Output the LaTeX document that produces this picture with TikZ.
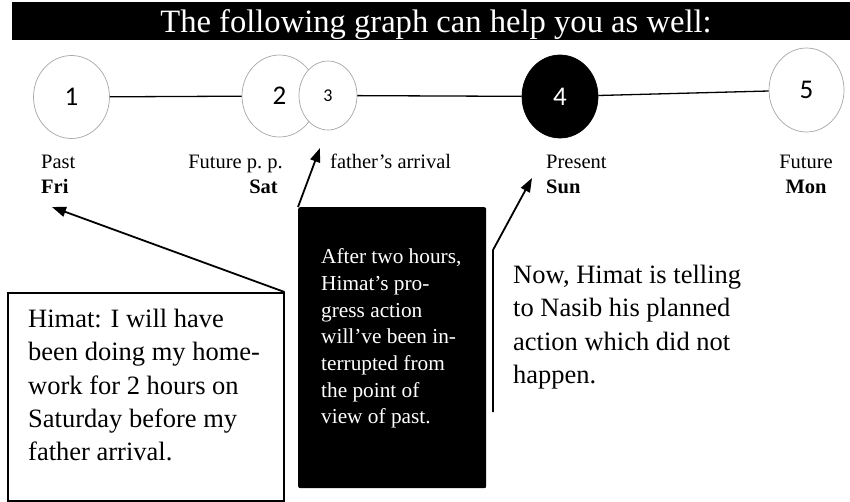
\documentclass[tikz,border=0pt]{standalone}
\usepackage{fontspec}
\setmainfont{Liberation Serif}
\newfontfamily\numfont{Carlito}
\usetikzlibrary{shapes.geometric,arrows.meta}
\begin{document}
\begin{tikzpicture}[x=1pt,y=-1pt,
  circ/.style={ellipse, draw=gray!70, line width=0.7pt, fill=white, inner sep=0pt, font=\numfont\fontsize{27}{30}\selectfont},
  link/.style={line width=1.3pt, draw=black},
  lab/.style={anchor=base west, inner sep=0pt, font=\fontsize{20.5}{24}\selectfont},
  blab/.style={lab, font=\fontsize{20.5}{24}\selectfont\bfseries},
  pointer/.style={line width=1.8pt, -{Triangle[length=14pt,width=10pt]}},
  bigtext/.style={anchor=north west, inner sep=0pt, align=left, font=\fontsize{26.5}{33.3}\selectfont},
]
\useasboundingbox (0,0) rectangle (850,501);
% title bar
\node[fill=black, minimum width=838pt, minimum height=38pt, inner sep=0pt, anchor=north west] (bar) at (12,2) {};
\node[anchor=base, inner sep=0pt, text=white, font=\fontsize{32.6}{36}\selectfont] (title) at (436,32) {The following graph can help you as well:};
% circles
\node[circ, minimum width=76pt, minimum height=83pt] (n1) at (71.5,97) {1};
\node[circ, minimum width=75pt, minimum height=82pt] (n2) at (279.5,96) {2};
\node[circ, minimum width=58pt, minimum height=69pt, font=\numfont\fontsize{18}{20}\selectfont] (n3) at (328,95.5) {3};
\node[circ, draw=black, fill=black, text=white, minimum width=76pt, minimum height=83pt] (n4) at (560,96.5) {4};
\node[circ, minimum width=75pt, minimum height=84pt] (n5) at (806.5,90) {5};
\draw[link] (n1) -- (n2);
\draw[link] (n3) -- (n4);
\draw[link] (n4) -- (n5);
% labels
\node[lab] (past) at (41,168) {Past};
\node[blab] (fri) at (41,193) {Fri};
\node[lab, anchor=base east] (fpp) at (283,168) {Future p.\ p.};
\node[blab, anchor=base east] (sat) at (278,193) {Sat};
\node[lab] (arr) at (330,168) {father’s arrival};
\node[lab] (pres) at (546,168) {Present};
\node[blab] (sun) at (546,193) {Sun};
\node[lab, anchor=base] (fut) at (806,168) {Future};
\node[blab, anchor=base] (mon) at (806,193) {Mon};
% box 1
\node[draw, line width=1.5pt, minimum width=276pt, minimum height=208pt, inner sep=0pt, anchor=north west] (box1) at (7,292) {};
\node[bigtext] (t1) at (28,309) {Himat: I will have\\been doing my home-\\work for 2 hours on\\Saturday before my\\father arrival.};
% black box
\node[fill=black, rounded corners=2pt, minimum width=188pt, minimum height=281pt, inner sep=0pt, anchor=north west] (bbox) at (298,207) {};
\node[anchor=north west, inner sep=0pt, align=left, text=white, font=\fontsize{21.3}{26.7}\selectfont] (t2) at (321,248.5) {After two hours,\\Himat’s pro-\\gress action\\will’ve been in-\\terrupted from\\the point of\\view of past.};
% right text
\node[bigtext] (t3) at (513,265) {Now, Himat is telling\\to Nasib his planned\\action which did not\\happen.};
% arrows
\coordinate (tipA) at (52,207);
\draw[pointer] (box1.north east) -- (tipA);
\coordinate (tipB) at (320,148);
\draw[pointer] (bbox.north west) -- (tipB);
\coordinate (footC) at (493,412);
\coordinate (kneeC) at (493,250);
\coordinate (tipC) at (532,178);
\draw[pointer] (footC) -- (kneeC) -- (tipC);
\end{tikzpicture}
\end{document}
